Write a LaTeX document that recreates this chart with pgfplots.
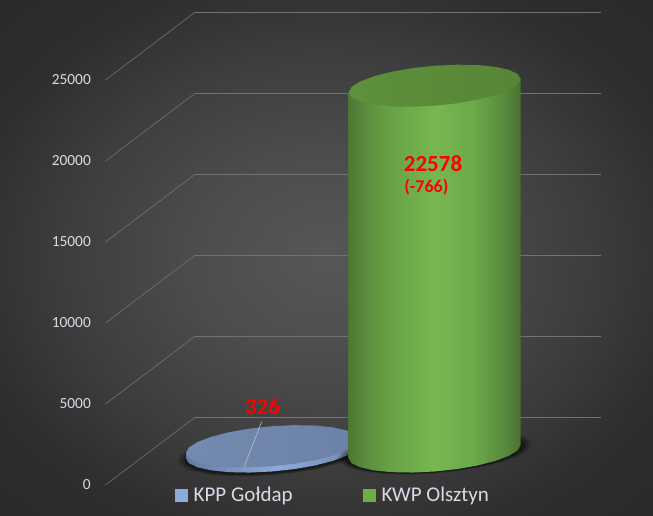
\documentclass[border=0pt]{standalone}
\usepackage{pgfplots}
\usepackage{pgfplotstable}
\usepackage{fontspec}
\setmainfont{Carlito}
\pgfplotsset{compat=1.18}
\definecolor{tickc}{HTML}{D5DCE6}
\definecolor{gridc}{HTML}{727272}
\definecolor{legblue}{HTML}{8EAADB}
\definecolor{leggreen}{HTML}{70AD47}
\definecolor{gc0}{HTML}{4C7833}
\definecolor{gc1}{HTML}{5E9040}
\definecolor{gc2}{HTML}{68A346}
\definecolor{gc3}{HTML}{77B750}
\definecolor{gc4}{HTML}{6CAA4A}
\definecolor{gc5}{HTML}{598A3C}
\definecolor{gc6}{HTML}{4A7331}
\pgfdeclareradialshading{bgshade}{\pgfpoint{0bp}{0bp}}{
 color(0bp)=(black!66!white);
 color(10bp)=(black!70!white);
 color(20bp)=(black!76!white);
 color(28bp)=(black!82!white);
 color(38bp)=(black!84!white);
 color(50bp)=(black!84!white)}
\pgfdeclarehorizontalshading{greenbody}{100bp}{
 color(0bp)=(gc0);
 color(25bp)=(gc0);
 color(31bp)=(gc1);
 color(37.5bp)=(gc2);
 color(50bp)=(gc3);
 color(61bp)=(gc4);
 color(70bp)=(gc5);
 color(75bp)=(gc6);
 color(100bp)=(gc6)}
\pgfdeclarehorizontalshading{bluerim}{100bp}{
 color(0bp)=(legblue!72!black);
 color(25bp)=(legblue!72!black);
 color(40bp)=(legblue!88!black);
 color(52bp)=(legblue);
 color(75bp)=(legblue!80!black);
 color(100bp)=(legblue!80!black)}
% ellipse outline of a cylinder end: x in picture pixels, dv = offset from the end's value
\pgfplotstableread{
x dv
520.7 414
517.8 80
509.2 -259
495.5 -580
477.7 -862
457.0 -1086
434.7 -1235
412.4 -1300
391.7 -1276
373.9 -1165
360.2 -975
351.6 -719
348.7 -414
351.6 -80
360.2 259
373.9 580
391.7 862
412.4 1086
434.7 1235
457.0 1300
477.7 1276
495.5 1165
509.2 975
517.8 719
}\ellipsetable
\begin{document}
\begin{tikzpicture}[x=1pt,y=1pt]
\shade[shading=bgshade] (0,0) rectangle (653,516);
\begin{axis}[
 at={(105.5pt,0pt)},anchor=south west,
 scale only axis,width=547.5pt,height=516pt,
 xmin=105.5,xmax=653,ymin=-1914,ymax=29939,
 clip=false,
 axis line style={draw=none},
 tick style={draw=none},
 xtick=\empty,
 ytick={0,5000,10000,15000,20000,25000},
 scaled y ticks=false,
 /pgf/number format/1000 sep={},
 /pgf/number format/assume math mode=true,
 ticklabel style={font=\fontsize{15.4}{18}\selectfont,text=tickc},
 tick label style={inner sep=0pt},
 ytick pos=left,
 yticklabel shift=14.5pt,
 legend columns=2,
 legend style={at={(0.127,0.0407)},anchor=west,draw=none,fill=none,
  font=\fontsize{21}{24}\selectfont,text=tickc,inner sep=0pt,
  /tikz/every even column/.append style={column sep=68.5pt}},
 legend image code/.code={\fill[#1] (0pt,-5.8pt) rectangle (12pt,5.8pt);\path (16pt,0pt);},
 legend cell align=left,
]
\addlegendimage{legblue}
\addlegendentry{KPP Gołdap}
\addlegendimage{leggreen}
\addlegendentry{KWP Olsztyn}
% walls: front-left end, back corner, right end
\addplot[forget plot,gridc,line width=.6pt] coordinates {(105.5,0)(195,4179)};
\addplot[forget plot,gridc,line width=1pt] coordinates {(195,4179)(601,4179)};
\addplot[forget plot,gridc,line width=.6pt] coordinates {(105.5,5000)(195,9179)};
\addplot[forget plot,gridc,line width=1pt] coordinates {(195,9179)(601,9179)};
\addplot[forget plot,gridc,line width=.6pt] coordinates {(105.5,10000)(195,14179)};
\addplot[forget plot,gridc,line width=1pt] coordinates {(195,14179)(601,14179)};
\addplot[forget plot,gridc,line width=.6pt] coordinates {(105.5,15000)(195,19179)};
\addplot[forget plot,gridc,line width=1pt] coordinates {(195,19179)(601,19179)};
\addplot[forget plot,gridc,line width=.6pt] coordinates {(105.5,20000)(195,24179)};
\addplot[forget plot,gridc,line width=1pt] coordinates {(195,24179)(601,24179)};
\addplot[forget plot,gridc,line width=.6pt] coordinates {(105.5,25000)(195,29179)};
\addplot[forget plot,gridc,line width=1pt] coordinates {(195,29179)(601,29179)};
% shadows under the blue disk
\addplot[forget plot,draw=none,fill=black,opacity=.15] table[x expr={272+(\thisrow{x}-434.7)*1.10},y expr={1950+\thisrow{dv}*1.10}] {\ellipsetable} -- cycle;
\addplot[forget plot,draw=none,fill=black,opacity=.22] table[x expr={272+(\thisrow{x}-434.7)*1.06},y expr={1950+\thisrow{dv}*1.06}] {\ellipsetable} -- cycle;
\addplot[forget plot,draw=none,fill=black,opacity=.3] table[x expr={272+(\thisrow{x}-434.7)*1.02},y expr={1950+\thisrow{dv}*1.02}] {\ellipsetable} -- cycle;
% KPP Goldap: rim and top (326)
\addplot[forget plot,draw=none,shade,shading=bluerim] coordinates {
(358,2482)(355.1,2148)(346.5,1809)(332.8,1488)(315,1206)(294.3,982)(272,833)(249.7,768)(229,792)(211.2,903)(197.5,1093)(188.9,1349)(186,1654)(186,1980)(358,2808)} -- cycle;
\addplot[forget plot,draw=none,shade,left color=legblue!81!black,right color=legblue!76!black] table[x expr={\thisrow{x}-162.7},y expr={2394+\thisrow{dv}}] {\ellipsetable} -- cycle;
\addplot[forget plot,color=black!25!white,line width=.6pt] coordinates {(261.7,3908)(244,1111)};
% shadows under the green cylinder
\addplot[forget plot,draw=none,fill=black,opacity=.15] table[x expr={434.7+(\thisrow{x}-434.7)*1.13},y expr={2068+\thisrow{dv}*1.10}] {\ellipsetable} -- cycle;
\addplot[forget plot,draw=none,fill=black,opacity=.22] table[x expr={434.7+(\thisrow{x}-434.7)*1.09},y expr={2068+\thisrow{dv}*1.06}] {\ellipsetable} -- cycle;
\addplot[forget plot,draw=none,fill=black,opacity=.3] table[x expr={434.7+(\thisrow{x}-434.7)*1.05},y expr={2040+\thisrow{dv}*1.03}] {\ellipsetable} -- cycle;
% KWP Olsztyn: body and top (22578)
\addplot[forget plot,draw=none,shade,shading=greenbody] coordinates {
(520.7,2482)(517.8,2148)(509.2,1809)(495.5,1488)(477.7,1206)(457,982)(434.7,833)(412.4,768)(391.7,792)(373.9,903)(360.2,1093)(351.6,1349)(348.7,1654)(348.7,24232)(520.7,25060)} -- cycle;
\addplot[forget plot,draw=none,shade,left color=leggreen!84!black,right color=leggreen!77!black] table[y expr={24646+\thisrow{dv}}] {\ellipsetable} -- cycle;
\node[text=red,font=\fontsize{23}{26}\selectfont\bfseries] at (axis cs:262.5,4833) {326};
\node[text=red,font=\fontsize{23}{26}\selectfont\bfseries] at (axis cs:433,19815) {22578};
\node[text=red,font=\fontsize{18}{20}\selectfont\bfseries] at (axis cs:426.3,18396) {(-766)};
\end{axis}
\end{tikzpicture}
\end{document}
